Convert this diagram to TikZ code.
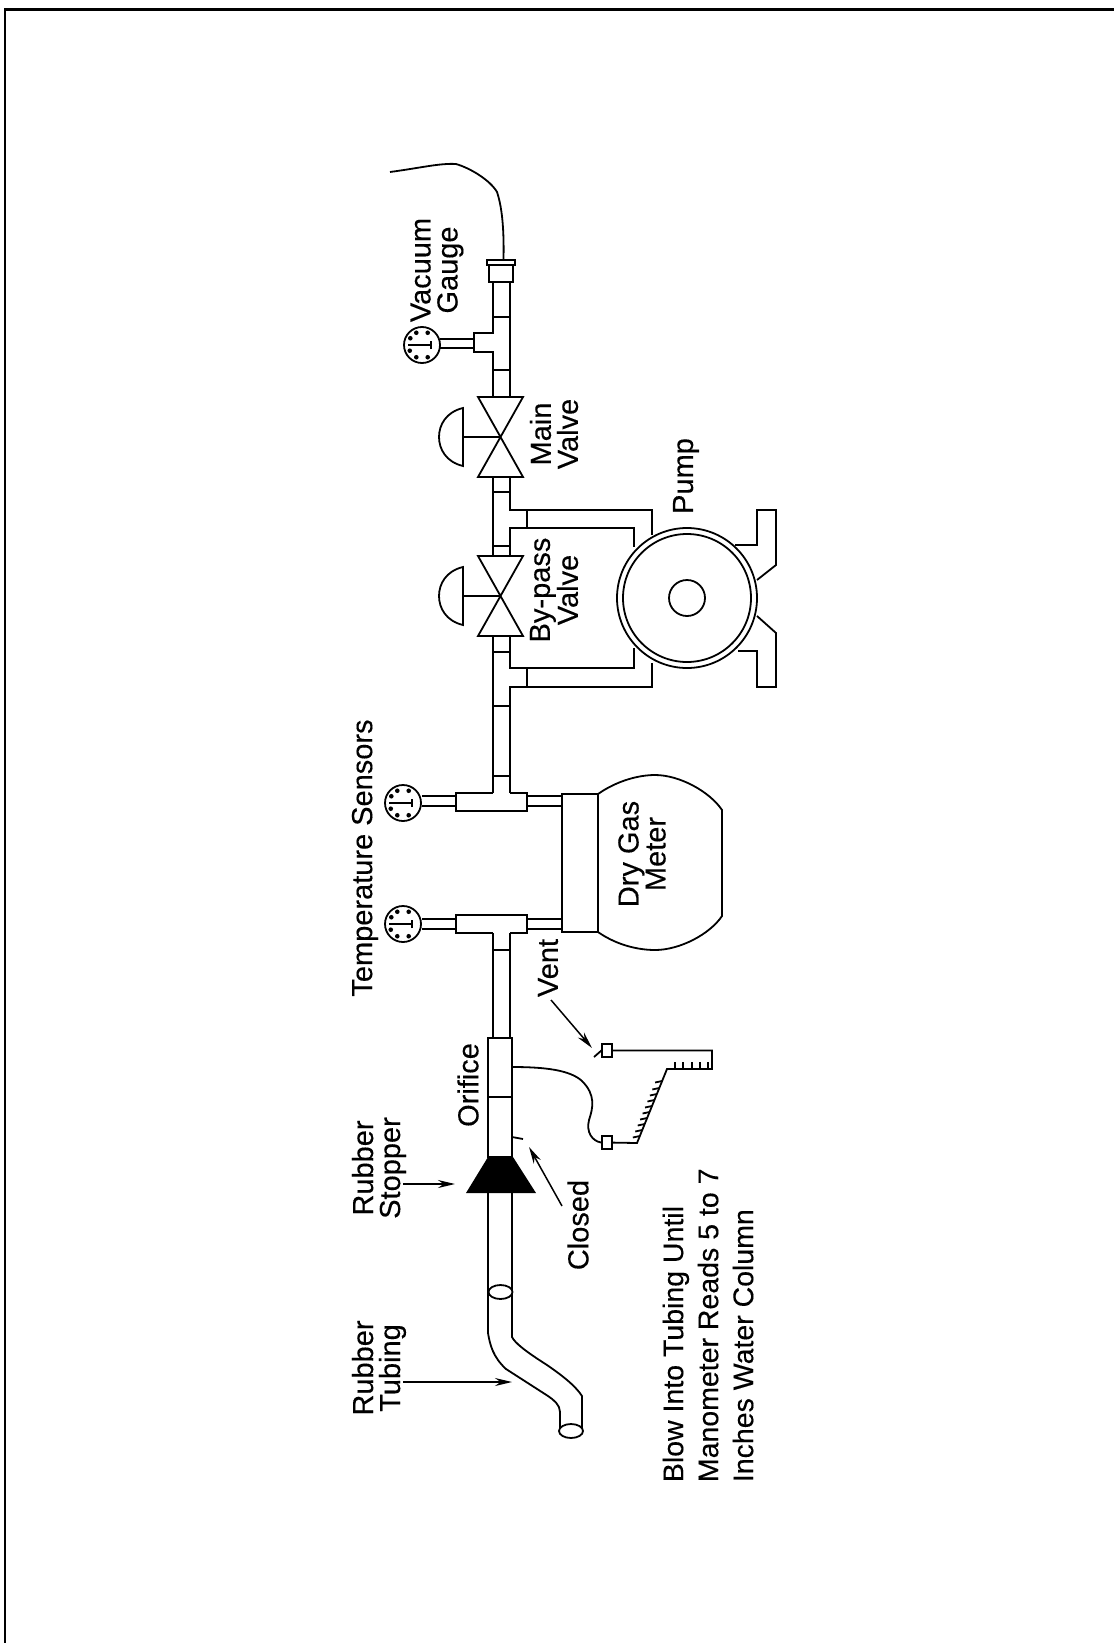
\documentclass[tikz,border=0pt]{standalone}
\usepackage{fontspec}
\setmainfont{Liberation Sans}[FakeBold=0.25]
\usepackage{tikz}
\usetikzlibrary{arrows.meta,calc,shapes.geometric}

\begin{document}
\begin{tikzpicture}[
    x=1pt,
    y=-1pt,
    line join=miter,
    every path/.style={line width=1.8pt},
    lbl/.style={
        rotate=90,
        inner sep=0pt,
        align=center,
        font=\fontsize{29}{27}\selectfont
    },
    note/.style={lbl, align=left, font=\fontsize{28.5}{35}\selectfont},
    gauge/.style={circle, draw, minimum size=36pt, inner sep=0pt},
    fitting/.style={rectangle, draw, fill=white, minimum width=10pt, minimum height=13pt, inner sep=0pt},
    tubemouth/.style={ellipse, draw, fill=white, minimum width=24pt, minimum height=14pt, inner sep=0pt},
    pointer/.style={-{Stealth[length=17pt,width=8pt]}, line width=1.5pt}
]
\useasboundingbox (0,0) rectangle (1114,1643);

% ---------------- Frame ----------------
\draw[line width=2.5pt] (5,1643) -- (5,9.5) -- (1114,9.5);

% ---------------- Hose and cap ----------------
\draw (390,172) .. controls (420,168) and (440,163) .. (456,164)
    .. controls (470,168) and (490,180) .. (497,192)
    .. controls (503,210) and (504,235) .. (503.5,260);
\node[rectangle, draw, minimum width=28pt, minimum height=5pt, inner sep=0pt] (capflange) at (501,262.5) {};
\node[rectangle, draw, minimum width=24pt, minimum height=17pt, inner sep=0pt] (capbody) at (501,273.5) {};

% ---------------- Pipe at vacuum gauge ----------------
\draw (493,282) -- (493,333) -- (474,333) -- (474,352) -- (493,352) -- (493,397);
\draw (510,282) -- (510,397);
\draw (493,317) -- (510,317);
\draw (493,370) -- (510,370);
\draw (474,339) -- (440,339);
\draw (474,348) -- (440,348);

% ---------------- Gauges ----------------
\foreach \gname/\gx/\gy in {vacgauge/422/345, tempgaugeb/403/803, tempgaugea/403/924} {
    \node[gauge] (\gname) at (\gx,\gy) {};
    \foreach \ang in {65,115,150,205,245,295}
        \fill ($(\gname)+(\ang:13.5pt)$) circle (2.3pt);
    \draw[line width=2.5pt] ($(\gname)+(-14pt,0)$) -- ($(\gname)+(9pt,0)$);
    \draw ($(\gname)+(9pt,-4pt)$) -- ($(\gname)+(9pt,4pt)$);
}

% ---------------- Valves ----------------
\foreach \vy in {437,596} {
    \draw (478,\vy-40) -- (523,\vy-40) -- (478,\vy+40) -- (523,\vy+40) -- cycle;
    \draw (500.5,\vy) -- (463,\vy);
    \draw (463,\vy-29) .. controls (446,\vy-25) and (439,\vy-12) .. (439,\vy)
        .. controls (439,\vy+12) and (446,\vy+25) .. (463,\vy+29) -- cycle;
}

% ---------------- By-pass piping ----------------
\draw (493,477) -- (493,557);
\draw (510,477) -- (510,510) -- (652,510) -- (652,535);
\draw (510,557) -- (510,528) -- (634,528) -- (634,547);
\draw (527,510) -- (527,528);
\draw (493,492) -- (510,492);
\draw (493,546) -- (510,546);

\draw (493,636) -- (493,793);
\draw (510,636) -- (510,668) -- (634,668) -- (634,648);
\draw (527,668) -- (527,687);
\draw (652,663) -- (652,687) -- (510,687) -- (510,793);
\draw (493,652) -- (510,652);
\draw (493,706) -- (510,706);
\draw (493,776) -- (510,776);

% ---------------- Tees to meter ----------------
\draw (493,793) -- (456,793) -- (456,811) -- (527,811) -- (527,793) -- (510,793);
\draw (493,933) -- (456,933) -- (456,915) -- (527,915) -- (527,933) -- (510,933);
\draw (422,796) -- (456,796);
\draw (422,806) -- (456,806);
\draw (527,796) -- (562,796);
\draw (527,806) -- (562,806);
\draw (422,919) -- (456,919);
\draw (422,929) -- (456,929);
\draw (527,919) -- (562,919);
\draw (527,929) -- (562,929);

% ---------------- Dry gas meter ----------------
\draw (562,794) rectangle (598,932);
\draw (598,794) .. controls (618,780) and (640,775) .. (655,775)
    .. controls (680,775) and (710,792) .. (722,810)
    -- (722,916)
    .. controls (710,934) and (680,950) .. (655,950)
    .. controls (640,950) and (618,946) .. (598,932);

% ---------------- Pump ----------------
\node[circle, draw, minimum size=140pt, inner sep=0pt] (pumpouter) at (687,598) {};
\node[circle, draw, minimum size=128pt, inner sep=0pt] (pumpinner) at (687,598) {};
\node[circle, draw, minimum size=36pt, inner sep=0pt] (pumphub) at (687,598) {};
\draw (735,545) -- (757,545) -- (757,510) -- (776,510) -- (776,565) -- (757,580);
\draw (757,616) -- (776,633) -- (776,687) -- (757,687) -- (757,651) -- (738,651);

% ---------------- Orifice and stopper ----------------
\draw (493,950) -- (510,950);
\draw (493,933) -- (493,1038);
\draw (510,933) -- (510,1038);
\draw (488,1038) rectangle (512,1157);
\draw (488,1097) -- (512,1097);
\fill (488,1157) -- (513,1157) -- (536,1193) -- (466,1193) -- cycle;
\draw (512,1137) -- (523,1139);

% ---------------- Rubber tubing ----------------
\draw (488,1193) -- (488,1333) .. controls (490,1345) and (493,1357) .. (506,1369)
    -- (548,1396) .. controls (554,1400) and (560,1405) .. (560,1412) -- (560,1431);
\draw (512,1193) -- (512,1337) .. controls (515,1343) and (525,1351) .. (547,1365)
    .. controls (560,1374) and (575,1385) .. (582,1396) -- (582,1431);
\node[tubemouth] (tubetop) at (500.5,1292) {};
\node[tubemouth] (tubeend) at (571,1431) {};

% ---------------- Manometer ----------------
\node[fitting] (ventfit) at (607,1050.5) {};
\node[fitting] (probefit) at (607,1142.5) {};
\coordinate (orificetap) at (512,1067);
\draw (ventfit) -- (712,1050.5) -- (712,1069) -- (667,1069) -- (637,1143) -- (probefit);
\draw (602,1050) -- (594,1057);
\draw (orificetap) .. controls (545,1067) and (570,1070) .. (582,1081)
    .. controls (596,1095) and (593,1108) .. (589,1120)
    .. controls (586,1132) and (592,1141) .. (probefit.west);
\foreach \tx in {675,683,692,700,708}
    \draw (\tx,1069) -- (\tx,1062);
\foreach \ty in {1081,1088,1094,1100,1106,1112,1118,1124,1130,1136}
    \draw ($(667,1069)!{(\ty-1069)/74}!(637,1143)$) -- ++(-7pt,-1.5pt);

% ---------------- Labels ----------------
\node[lbl] (vaclabel) at (437,270) {Vacuum\\Gauge};
\node[lbl] (mainlabel) at (554,434) {Main\\Valve};
\node[lbl] (pumplabel) at (686,476) {Pump};
\node[lbl] (bypasslabel) at (554,590) {By-pass\\Valve};
\node[lbl] (templabel) at (365,858) {Temperature Sensors};
\node[lbl] (meterlabel) at (642,854) {Dry Gas\\Meter};
\node[lbl] (ventlabel) at (548,968) {Vent};
\node[lbl] (orificelabel) at (468,1085) {Orifice};
\node[lbl] (stopperlabel) at (379,1168) {Rubber\\Stopper};
\node[lbl] (closedlabel) at (578,1225) {Closed};
\node[lbl] (tubinglabel) at (379,1368) {Rubber\\Tubing};
\node[note, anchor=west] (blowlabel) at (708,1483) {Blow Into Tubing Until\\Manometer Reads 5 to 7\\Inches Water Column};

% ---------------- Pointers ----------------
\coordinate (tubingtail) at (403,1382);
\coordinate (tubingtip) at (512,1382);
\coordinate (stoppertail) at (403,1184);
\coordinate (stoppertip) at (455,1184);
\coordinate (closedtail) at (562,1206);
\coordinate (closedtip) at (529,1147);
\coordinate (venttail) at (551,1000);
\coordinate (venttip) at (592,1048);
\draw[pointer] (tubingtail) -- (tubingtip);
\draw[pointer] (stoppertail) -- (stoppertip);
\draw[pointer] (closedtail) -- (closedtip);
\draw[pointer] (venttail) -- (venttip);

\end{tikzpicture}
\end{document}
